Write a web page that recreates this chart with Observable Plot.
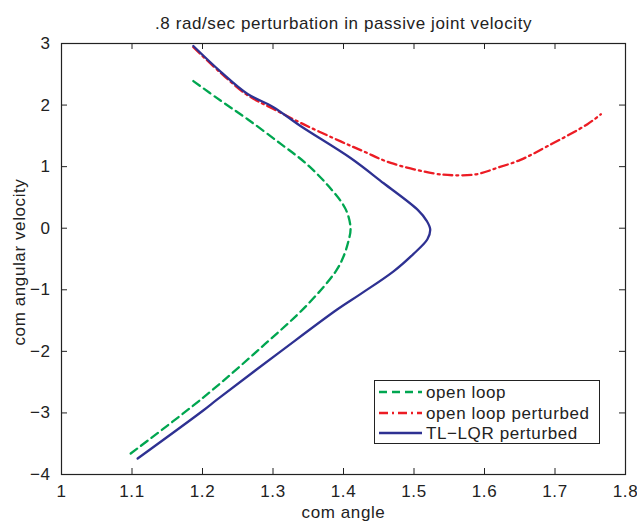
<!DOCTYPE html>
<html>
<head>
<meta charset="utf-8">
<script src="https://cdn.jsdelivr.net/npm/d3@7"></script>
<script src="https://cdn.jsdelivr.net/npm/@observablehq/plot@0.6"></script>
<style>
  html, body { margin: 0; padding: 0; background: #fff; }
  #wrap { position: relative; width: 637px; height: 529px; font-family: "Liberation Sans", Arial, Helvetica, sans-serif; }
  #legend { position: absolute; left: 374px; top: 380px; width: 226px; height: 64px; box-sizing: border-box; border: 1.4px solid #222; background: #fff; }
  #legend svg { display: block; }
</style>
</head>
<body>
<div id="wrap"></div>
<script>
const title = ".8 rad/sec perturbation in passive joint velocity";
const xLabel = "com angle";
const yLabel = "com angular velocity";
const xTicks = [1, 1.1, 1.2, 1.3, 1.4, 1.5, 1.6, 1.7, 1.8];
const yTicks = [-4, -3, -2, -1, 0, 1, 2, 3];

const seriesNames = ["open loop", "open loop perturbed", "TL\u2212LQR perturbed"];
const seriesColors = ["#00a650", "#ec1c24", "#2e3192"];
const seriesDash = ["8,5", "9,4,2,4", null];

const openLoopX = [1.187,1.226,1.264,1.311,1.346,1.379,1.403,1.410,1.407,1.400,1.389,1.349,1.282,1.200,1.098];
const openLoopY = [2.39,2.07,1.77,1.37,1.06,0.68,0.31,0.0,-0.21,-0.46,-0.70,-1.24,-1.95,-2.76,-3.66];

const perturbedX = [1.187,1.226,1.264,1.300,1.343,1.396,1.428,1.467,1.528,1.556,1.590,1.618,1.651,1.689,1.746,1.765];
const perturbedY = [2.94,2.52,2.16,1.94,1.69,1.41,1.25,1.06,0.89,0.86,0.88,0.98,1.11,1.33,1.69,1.85];

const lqrX = [1.187,1.226,1.264,1.300,1.339,1.410,1.457,1.506,1.518,1.523,1.519,1.499,1.471,1.424,1.391,1.311,1.221,1.201,1.108];
const lqrY = [2.96,2.54,2.18,1.97,1.66,1.14,0.73,0.29,0.12,-0.02,-0.18,-0.42,-0.70,-1.07,-1.32,-2.00,-2.78,-2.96,-3.74];

const toPts = (xs, ys) => xs.map((x, i) => ({x, y: ys[i]}));
const series = [toPts(openLoopX, openLoopY), toPts(perturbedX, perturbedY), toPts(lqrX, lqrY)];

const W = 637, H = 529, mL = 61, mR = 12, mT = 43, mB = 55;
const frameW = W - mL - mR, frameH = H - mT - mB;
const tick = 6;
const font = "Liberation Sans, Arial, Helvetica, sans-serif";

const chart = Plot.plot({
  width: W, height: H,
  marginLeft: mL, marginRight: mR, marginTop: mT, marginBottom: mB,
  style: {fontFamily: font, fontSize: "17px", letterSpacing: "0.6px", color: "#222", background: "#fff"},
  x: {domain: [1, 1.8], ticks: xTicks},
  y: {domain: [-4, 3], ticks: yTicks},
  marks: [
    Plot.axisX(xTicks, {tickSize: 0, tickPadding: 10, label: null, tickFormat: d => String(d), fontSize: 17}),
    Plot.axisY(yTicks, {tickSize: 0, tickPadding: 11, label: null, tickFormat: d3.format("d"), fontSize: 17}),
    Plot.ruleX(xTicks, {x: d => d, insetTop: frameH - tick, stroke: "#222"}),
    Plot.ruleX(xTicks, {x: d => d, insetBottom: frameH - tick, stroke: "#222"}),
    Plot.ruleY(yTicks, {y: d => d, insetRight: frameW - tick, stroke: "#222"}),
    Plot.ruleY(yTicks, {y: d => d, insetLeft: frameW - tick, stroke: "#222"}),
    ...series.map((pts, i) => Plot.line(pts, {
      x: "x", y: "y", stroke: seriesColors[i], strokeWidth: 2.3,
      strokeDasharray: seriesDash[i] ?? undefined, curve: "catmull-rom"
    })),
    Plot.frame({stroke: "#222", strokeWidth: 1.2}),
    Plot.text([title], {frameAnchor: "top", dy: -27, fontSize: 17, fill: "#222", textAnchor: "middle"}),
    Plot.text([xLabel], {frameAnchor: "bottom", dy: 43, fontSize: 17, fill: "#222", textAnchor: "middle"}),
    Plot.text([yLabel], {frameAnchor: "left", dx: -42, dy: 3, rotate: -90, fontSize: 17, fill: "#222", textAnchor: "middle"})
  ]
});

const wrap = document.getElementById("wrap");
wrap.appendChild(chart);

// legend
const leg = document.createElement("div");
leg.id = "legend";
wrap.appendChild(leg);
const svg = d3.select(leg).append("svg").attr("width", 224).attr("height", 62);
const rowY = [11, 32, 52];
seriesNames.forEach((name, i) => {
  svg.append("line")
    .attr("x1", 4).attr("x2", 47).attr("y1", rowY[i]).attr("y2", rowY[i])
    .attr("stroke", seriesColors[i]).attr("stroke-width", 2.3)
    .attr("stroke-dasharray", seriesDash[i]);
  svg.append("text")
    .attr("x", 51).attr("y", rowY[i]).attr("dy", "0.35em")
    .attr("font-family", font)
    .attr("font-size", 17).attr("letter-spacing", "0.6px").attr("fill", "#222")
    .text(name);
});
</script>
</body>
</html>
